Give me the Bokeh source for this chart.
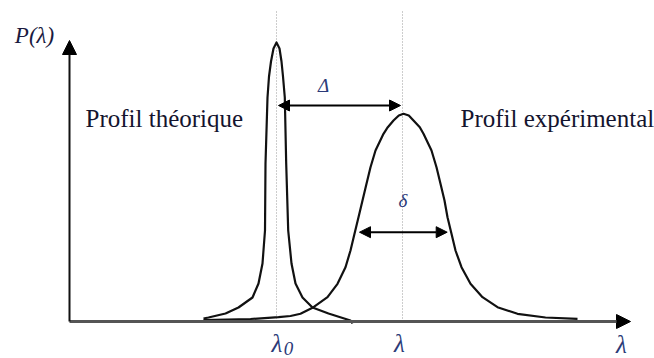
from bokeh.plotting import figure
from bokeh.models import Range1d, ColumnDataSource, Arrow, NormalHead
from bokeh.core.properties import value
from bokeh.embed import file_html
from bokeh.resources import INLINE

# --- data (lambda units on x, P(lambda) on y) ---
theo_x = [134, 139, 156, 169, 183, 189, 193, 195.5, 196, 198, 199.5, 201.5, 204, 207,
          210, 212, 213.5, 215.3, 216.7, 218.7, 222, 226, 233, 243, 259, 281, 283]
theo_y = [3, 4, 8, 14, 24, 38, 58, 91, 158, 224, 245, 260, 273, 279,
          273, 260, 245, 224, 158, 91, 58, 38, 24, 14, 8, 1, -2]

exp_x = [134, 181, 209, 221, 231, 244, 258, 268, 276, 281, 285, 289, 293, 297, 301,
         306, 314, 318.3, 324, 329.3, 334, 339.3, 344, 350.3, 354, 362, 367, 371, 375, 378,
         382, 386, 392, 401, 413, 428, 448, 476, 508]
exp_y = [1.5, 2.5, 4.3, 5.5, 7.7, 14.3, 24.3, 37.7, 54.3, 71, 87.7, 104.3, 121, 137.7, 154.3,
         171, 187.7, 194.3, 201, 206, 207.7, 206, 201, 194.3, 187.7, 171, 154.3, 137.7, 121, 104.3,
         87.7, 71, 54.3, 37.7, 24.3, 14.3, 7.7, 4, 2.7]

lambda0 = 207        # centre of theoretical profile
lambda_c = 333       # centre of experimental profile
guide_top = 311
axis_x_end = 561
axis_y_end = 281
delta_big_y = 216    # level of the Delta arrow
delta_small_x = [290, 377.7]
delta_small_y = 89.3

# text annotations
side_labels = ["Profil théorique", "Profil expérimental"]
side_x = [16, 391]
side_y = [203, 203]

greek_labels = ["Δ", "δ"]
greek_x = [254, 333.5]
greek_y = [236, 121]

tick_labels = ["λ", "λ", "λ"]
tick_x = [207.5, 330, 552]
tick_y = [-22, -22, -23]
sub_labels = ["0"]
sub_x = [219]
sub_y = [-27]

ylabel = ["P(λ)"]
ylabel_x = [-35]
ylabel_y = [286]

# --- figure ---
p = figure(width=654, height=358, x_range=Range1d(-69, 585), y_range=Range1d(-37, 321),
           output_backend="svg", toolbar_location=None,
           x_axis_location=None, y_axis_location=None, min_border=0)
p.grid.visible = False
p.outline_line_color = None
p.background_fill_color = "white"

# dotted guide lines
p.segment(x0=[lambda0, lambda_c], y0=[0, 0], x1=[lambda0, lambda_c], y1=[guide_top, guide_top],
          line_color="#9a9a9a", line_width=1, line_dash="1 2")

# profiles
p.line(exp_x, exp_y, line_color="#111111", line_width=2.2, line_join="round")
p.line(theo_x, theo_y, line_color="#111111", line_width=2.2, line_join="round")

# x axis with arrow
xax_src = ColumnDataSource(dict(x0=[0], y0=[0], x1=[axis_x_end], y1=[0]))
p.add_layout(Arrow(source=xax_src, x_start="x0", y_start="y0", x_end="x1", y_end="y1",
                   line_color="#555555", line_width=2.8,
                   end=NormalHead(size=14, fill_color="black", line_color="black")))
# y axis with arrow
yax_src = ColumnDataSource(dict(x0=[0], y0=[0], x1=[0], y1=[axis_y_end]))
p.add_layout(Arrow(source=yax_src, x_start="x0", y_start="y0", x_end="x1", y_end="y1",
                   line_color="#111111", line_width=2,
                   end=NormalHead(size=14, fill_color="black", line_color="black")))

# Delta arrow (between centres)
big_src = ColumnDataSource(dict(x0=[lambda0 + 2], x1=[lambda_c - 2], y=[delta_big_y]))
p.add_layout(Arrow(source=big_src, x_start="x0", y_start="y", x_end="x1", y_end="y",
                   line_color="black", line_width=2,
                   start=NormalHead(size=11, fill_color="black", line_color="black"),
                   end=NormalHead(size=11, fill_color="black", line_color="black")))

# delta arrow (width)
small_src = ColumnDataSource(dict(x0=[delta_small_x[0]], x1=[delta_small_x[1]], y=[delta_small_y]))
p.add_layout(Arrow(source=small_src, x_start="x0", y_start="y", x_end="x1", y_end="y",
                   line_color="black", line_width=2,
                   start=NormalHead(size=11, fill_color="black", line_color="black"),
                   end=NormalHead(size=11, fill_color="black", line_color="black")))

serif = value("Liberation Serif")

p.text(x=side_x, y=side_y, text=side_labels, text_font=serif, text_font_size="25px",
       text_color="#14142e", text_align="left", text_baseline="alphabetic")

p.text(x=greek_x, y=greek_y, text=greek_labels, text_font=serif, text_font_style="italic",
       text_font_size="19px", text_color="#2b3a78", text_align="center", text_baseline="middle")

p.text(x=tick_x, y=tick_y, text=tick_labels, text_font=serif, text_font_style="italic",
       text_font_size="25px", text_color="#2b3a78", text_align="center", text_baseline="middle")
p.text(x=sub_x, y=sub_y, text=sub_labels, text_font=serif, text_font_style="italic",
       text_font_size="19px", text_color="#2b3a78", text_align="center", text_baseline="middle")

p.text(x=ylabel_x, y=ylabel_y, text=ylabel, text_font=serif, text_font_style="italic",
       text_font_size="23px", text_color="#1a1a40", text_align="center", text_baseline="middle")

open("out.html", "w").write(file_html(p, INLINE))
